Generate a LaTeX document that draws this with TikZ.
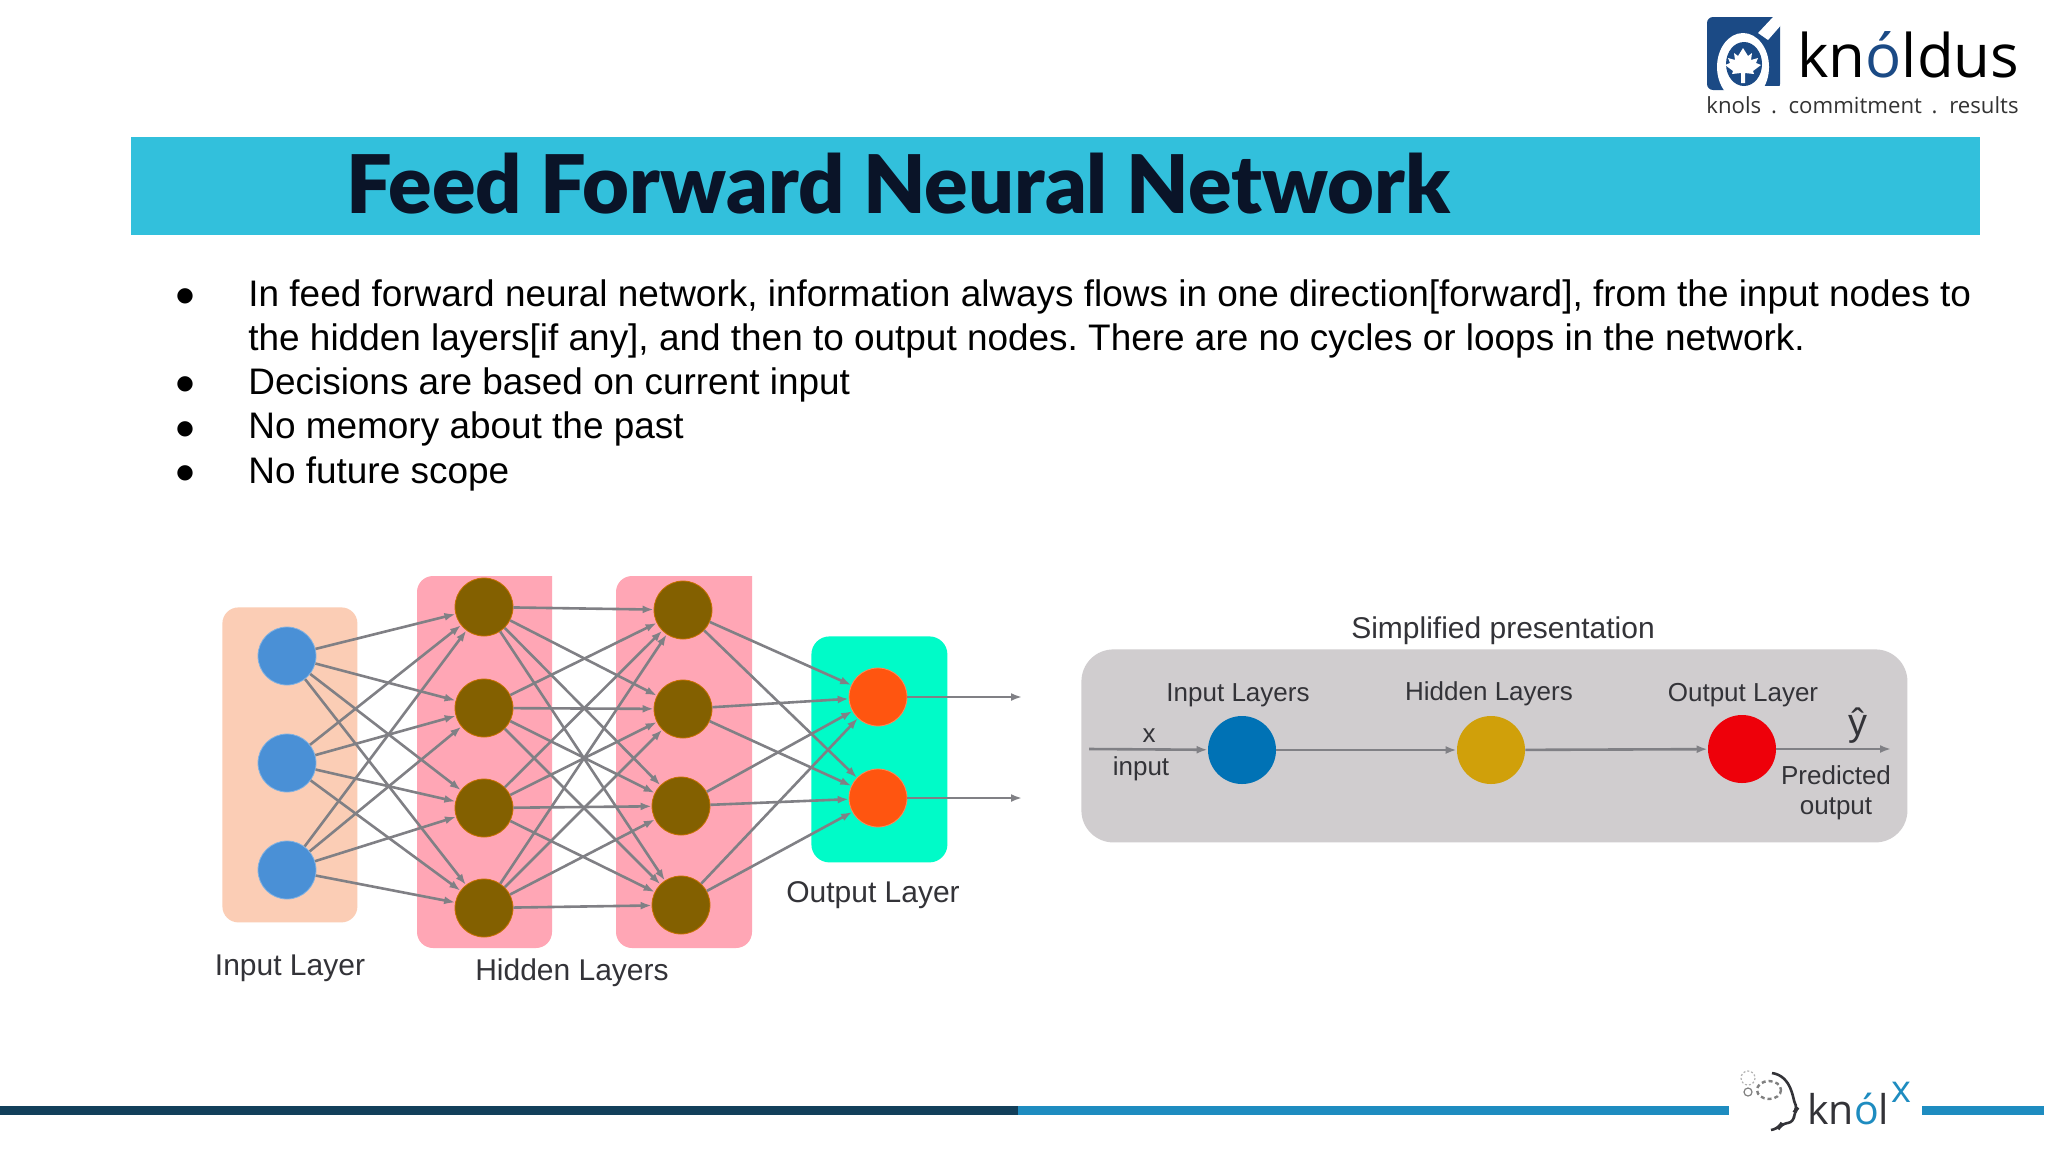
\documentclass[tikz,border=0pt]{standalone}
\usepackage{fontspec}
\setmainfont{Liberation Sans}
\newfontfamily\titlefont[BoldFont={Lato Black}]{Lato}
\newfontfamily\logofont{Open Sans}
\newfontfamily\symfont{DejaVu Sans}
\usetikzlibrary{arrows.meta}
\definecolor{barblue}{HTML}{32C0DC}
\definecolor{titleink}{HTML}{0A1428}
\definecolor{knolblue}{HTML}{1B4A85}
\definecolor{linedark}{HTML}{123F5A}
\definecolor{lineblue}{HTML}{1E8CC0}
\definecolor{edgegrey}{HTML}{808085}
\definecolor{labelink}{HTML}{333338}
\definecolor{inblue}{HTML}{4A90D6}
\definecolor{hidbrown}{HTML}{836000}
\definecolor{outred}{HTML}{FF5510}
\definecolor{inbg}{HTML}{FBCDB5}
\definecolor{hidbg}{HTML}{FFA6B5}
\definecolor{outbg}{HTML}{00FBC8}
\definecolor{panelgrey}{HTML}{D0CDCF}
\tikzset{every node/.style={align=center,inner sep=0pt},
  neuron/.style={circle,minimum size=29pt},
  bignode/.style={circle,minimum width=34pt},
  inlayer/.style={neuron,fill=inblue,draw=inblue!70!white},
  hidlayer/.style={neuron,fill=hidbrown,draw=orange!55!hidbrown},
  outlayer/.style={neuron,fill=outred,draw=outred!70!white},
  item/.style={anchor=base west,font=\frenchspacing\fontsize{18.47}{22}\selectfont,text=black},
  dot/.style={anchor=base,font=\symfont\fontsize{10}{14}\selectfont},
  label/.style={font=\fontsize{15}{18}\selectfont,text=labelink},
  small/.style={font=\fontsize{13}{15}\selectfont,text=labelink},
  link/.style={-{Latex[length=5.5pt,width=4pt]},draw=edgegrey,line width=1.3pt}}
\begin{document}
\begin{tikzpicture}[x=0.5pt,y=-0.5pt]
\useasboundingbox (0,0) rectangle (2048,1152);
\fill[white] (0,0) rectangle (2048,1152);

\node[fill=barblue,minimum width=924.5pt,minimum height=49pt,anchor=north west] (bar) at (131,137) {};
\node[font=\titlefont\bfseries\fontsize{40.4}{44}\selectfont,text=titleink,anchor=base west] (title) at (346,213) {Feed Forward Neural Network};

\foreach \yy in {301,389,434,478} \node[dot] at (185,\yy) {●};
\node[item] (l1) at (248,306) {In feed forward neural network, information always flows in one direction[forward], from the input nodes to};
\node[item] (l2) at (248,350) {the hidden layers[if any], and then to output nodes. There are no cycles or loops in the network.};
\node[item] (l3) at (248,394) {Decisions are based on current input};
\node[item] (l4) at (248,438) {No memory about the past};
\node[item] (l5) at (248,483) {No future scope};

\node[fill=inbg,rounded corners=8pt,minimum width=67.5pt,minimum height=157.5pt,anchor=north west] (inbox) at (222,607) {};
\foreach \xa/\xb in {417/552,616/752}
  \fill[hidbg,rounded corners=8pt]
    (\xa,948) -- (\xa,576) [sharp corners] -- (\xb,576) [rounded corners=8pt] -- (\xb,948) -- cycle;
\node[fill=outbg,rounded corners=9pt,minimum width=68pt,minimum height=113pt,anchor=north west] (outbox) at (811,636) {};

\node[inlayer] (i1) at (287,656) {};
\node[inlayer] (i2) at (287,763) {};
\node[inlayer] (i3) at (287,870) {};
\node[hidlayer] (a1) at (484,607) {};
\node[hidlayer] (a2) at (484,708) {};
\node[hidlayer] (a3) at (484,808) {};
\node[hidlayer] (a4) at (484,908) {};
\node[hidlayer] (b1) at (683,610) {};
\node[hidlayer] (b2) at (683,709) {};
\node[hidlayer] (b3) at (681,806) {};
\node[hidlayer] (b4) at (681,905) {};
\node[outlayer] (o1) at (878,697) {};
\node[outlayer] (o2) at (878,798) {};
\coordinate (e1) at (1022,697);
\coordinate (e2) at (1022,798);

\foreach \s in {1,2,3} \foreach \t in {1,2,3,4} \path (i\s) edge[link] (a\t);
\foreach \s in {1,2,3,4} \foreach \t in {1,2,3,4} \path (a\s) edge[link] (b\t);
\foreach \s in {1,2,3,4} \foreach \t in {1,2} \path (b\s) edge[link] (o\t);
\path (o1) edge[link] (e1)
  (o2) edge[link] (e2);

\node[label] (inlabel) at (290,968) {Input Layer};
\node[label] (hidlabel) at (572,973) {Hidden Layers};
\node[label] (outlabel) at (873,895) {Output Layer};

\node[label] (simple) at (1503,631) {Simplified presentation};
\node[fill=panelgrey,rounded corners=16pt,minimum width=413pt,minimum height=96.5pt,anchor=north west] (panel) at (1081,649) {};
\node[small] (pin) at (1238,695) {Input Layers};
\node[small] (phid) at (1489,694) {Hidden Layers};
\node[small] (pout) at (1743,695) {Output Layer};
\node[bignode,fill={rgb,255:red,0;green,114;blue,181}] (p1) at (1242,750) {};
\node[bignode,fill={rgb,255:red,208;green,160;blue,10}] (p2) at (1491,750) {};
\node[bignode,fill={rgb,255:red,238;green,0;blue,10}] (p3) at (1742,749) {};
\coordinate (pstart) at (1089,749);
\coordinate (pend) at (1891,749);
\path (pstart) edge[link] (p1)
  (p1) edge[link] (p2)
  (p2) edge[link] (p3)
  (p3) edge[link] (pend);
\node[small] (px) at (1149,736) {x};
\node[small] (pinput) at (1141,769) {input};
\node[small,font=\fontsize{19}{20}\selectfont] (py) at (1858,726) {ŷ};
\node[small] (ppred) at (1836,775) {Predicted};
\node[small] (pouttxt) at (1836,809) {output};

\fill[knolblue,rounded corners=3pt] (1707,17) rectangle (1780,90);
\fill[white] (1743,67) ellipse (26 and 34);
\fill[white] (1743,91) rectangle (1790,86);
\fill[white] (1758,33) -- (1773,17) -- (1782,17) -- (1782,24) -- (1768,40) -- cycle;
\fill[knolblue] (1744,64) ellipse (18 and 22);
\fill[white] (1743,48) -- (1748,56) -- (1752,53) -- (1751,60) -- (1758,58) -- (1756,63) -- (1761,65)
  -- (1753,71) -- (1754,74) -- (1745,73) -- (1745,83) -- (1741,83) -- (1741,73) -- (1732,74) -- (1733,71)
  -- (1725,65) -- (1730,63) -- (1728,58) -- (1735,60) -- (1734,53) -- (1738,56) -- cycle;
\node[anchor=base west,font=\logofont\fontsize{30}{34}\selectfont] (brand) at (1797,77) {kn{\color{knolblue}ó}ldus};
\node[anchor=base west,font=\logofont\fontsize{11.1}{14}\selectfont,text=black!80] (motto) at (1706,113) {knols\hspace{2pt} . \hspace{2pt}commitment\hspace{2pt} . \hspace{2pt}results};

\draw[linedark,line width=4.5pt] (0,1110) -- (1018,1110);
\draw[lineblue,line width=4.5pt] (1018,1110) -- (1729,1110);
\draw[lineblue,line width=4.5pt] (1922,1110) -- (2044,1110);

\draw[labelink,line width=1.3pt,rounded corners=3pt] (1772,1073) .. controls (1792,1076) and (1793,1100) .. (1798,1108) -- (1794,1112) -- (1794,1122) -- (1781,1124) -- (1779,1128) -- (1771,1130);
\draw[gray,line width=1.2pt,dash pattern=on 2pt off 1.5pt] (1769,1090) ellipse (12 and 9);
\draw[gray!60,line width=.6pt,dash pattern=on 1pt off 1pt] (1748,1078) circle (7);
\draw[gray,line width=.6pt] (1748,1092) circle (4);
\node[anchor=base west,font=\logofont\fontsize{20.5}{24}\selectfont,text=labelink] (knol) at (1807,1124) {kn{\color{lineblue}ó}l};
\node[font=\logofont\fontsize{19}{22}\selectfont,text=lineblue] (knolx) at (1901,1092) {x};
\end{tikzpicture}
\end{document}
